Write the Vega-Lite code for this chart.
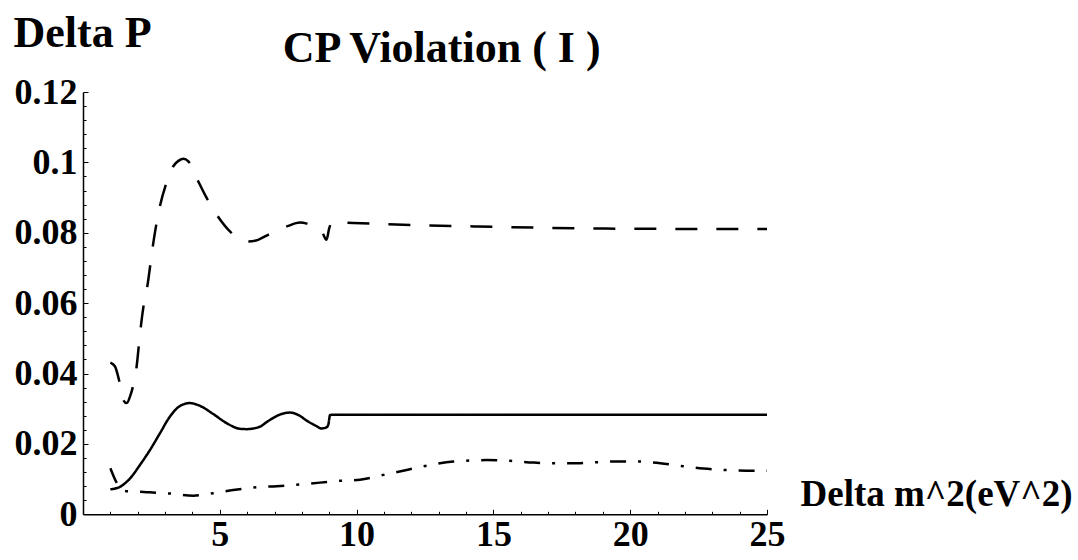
{
  "$schema": "https://vega.github.io/schema/vega-lite/v6.json",
  "autosize": "none",
  "width": 684,
  "height": 422.3,
  "padding": {"left": 83, "top": 92, "right": 311, "bottom": 45.7},
  "background": "white",
  "title": {
    "text": "CP Violation ( I )",
    "font": "Liberation Serif",
    "fontSize": 44,
    "fontWeight": "bold",
    "color": "black",
    "anchor": "middle",
    "frame": "group",
    "dx": 16.7,
    "dy": 95,
    "baseline": "alphabetic",
    "offset": 0
  },
  "config": {
    "view": {"stroke": null},
    "axis": {
      "grid": false,
      "domainColor": "black",
      "domainWidth": 1.5,
      "tickColor": "black",
      "tickWidth": 1,
      "labelFont": "Liberation Serif",
      "labelFontWeight": "bold",
      "labelFontSize": 36,
      "labelColor": "black",
      "labelFlush": false,
      "labelOverlap": false,
      "titleFont": "Liberation Serif",
      "titleFontWeight": "bold",
      "titleColor": "black"
    }
  },
  "data": {
    "values": [
      {"s": "solid", "x": 1.0, "y": 0.0071},
      {"s": "solid", "x": 1.35, "y": 0.0078},
      {"s": "solid", "x": 1.72, "y": 0.0102},
      {"s": "solid", "x": 2.08, "y": 0.014},
      {"s": "solid", "x": 2.45, "y": 0.0183},
      {"s": "solid", "x": 2.81, "y": 0.023},
      {"s": "solid", "x": 3.18, "y": 0.0278},
      {"s": "solid", "x": 3.55, "y": 0.0308},
      {"s": "solid", "x": 3.91, "y": 0.0316},
      {"s": "solid", "x": 4.28, "y": 0.0308},
      {"s": "solid", "x": 4.76, "y": 0.0285},
      {"s": "solid", "x": 5.25, "y": 0.0259},
      {"s": "solid", "x": 5.74, "y": 0.0243},
      {"s": "solid", "x": 5.98, "y": 0.0242},
      {"s": "solid", "x": 6.47, "y": 0.0249},
      {"s": "solid", "x": 6.71, "y": 0.0262},
      {"s": "solid", "x": 6.96, "y": 0.0274},
      {"s": "solid", "x": 7.25, "y": 0.0285},
      {"s": "solid", "x": 7.57, "y": 0.0289},
      {"s": "solid", "x": 7.9, "y": 0.0281},
      {"s": "solid", "x": 8.18, "y": 0.0266},
      {"s": "solid", "x": 8.5, "y": 0.0252},
      {"s": "solid", "x": 8.72, "y": 0.0244},
      {"s": "solid", "x": 8.9, "y": 0.0247},
      {"s": "solid", "x": 8.97, "y": 0.0256},
      {"s": "solid", "x": 9.03, "y": 0.0282},
      {"s": "solid", "x": 9.2, "y": 0.0283},
      {"s": "solid", "x": 25, "y": 0.0283},
      {"s": "dashed", "x": 1.0, "y": 0.0431},
      {"s": "dashed", "x": 1.17, "y": 0.042},
      {"s": "dashed", "x": 1.33, "y": 0.0377},
      {"s": "dashed", "x": 1.47, "y": 0.0325},
      {"s": "dashed", "x": 1.6, "y": 0.0316},
      {"s": "dashed", "x": 1.72, "y": 0.0335},
      {"s": "dashed", "x": 1.84, "y": 0.0368},
      {"s": "dashed", "x": 1.96, "y": 0.042},
      {"s": "dashed", "x": 2.08, "y": 0.051},
      {"s": "dashed", "x": 2.2, "y": 0.0585},
      {"s": "dashed", "x": 2.35, "y": 0.0647},
      {"s": "dashed", "x": 2.55, "y": 0.0761},
      {"s": "dashed", "x": 2.69, "y": 0.0828},
      {"s": "dashed", "x": 2.81, "y": 0.0875},
      {"s": "dashed", "x": 3.03, "y": 0.0937},
      {"s": "dashed", "x": 3.3, "y": 0.0989},
      {"s": "dashed", "x": 3.5, "y": 0.1005},
      {"s": "dashed", "x": 3.67, "y": 0.101},
      {"s": "dashed", "x": 3.85, "y": 0.1003},
      {"s": "dashed", "x": 4.15, "y": 0.0956},
      {"s": "dashed", "x": 4.52, "y": 0.0899},
      {"s": "dashed", "x": 4.89, "y": 0.0851},
      {"s": "dashed", "x": 5.37, "y": 0.0804},
      {"s": "dashed", "x": 5.7, "y": 0.0784},
      {"s": "dashed", "x": 6.04, "y": 0.0775},
      {"s": "dashed", "x": 6.4, "y": 0.078},
      {"s": "dashed", "x": 6.71, "y": 0.0792},
      {"s": "dashed", "x": 7.1, "y": 0.0808},
      {"s": "dashed", "x": 7.45, "y": 0.0818},
      {"s": "dashed", "x": 7.93, "y": 0.0829},
      {"s": "dashed", "x": 8.18, "y": 0.0826},
      {"s": "dashed", "x": 8.5, "y": 0.0815},
      {"s": "dashed", "x": 8.75, "y": 0.08},
      {"s": "dashed", "x": 8.9, "y": 0.078},
      {"s": "dashed", "x": 9.0, "y": 0.0813},
      {"s": "dashed", "x": 9.1, "y": 0.083},
      {"s": "dashed", "x": 9.88, "y": 0.0828},
      {"s": "dashed", "x": 12, "y": 0.0822},
      {"s": "dashed", "x": 14.3, "y": 0.0818},
      {"s": "dashed", "x": 17, "y": 0.0814},
      {"s": "dashed", "x": 19.1, "y": 0.0812},
      {"s": "dashed", "x": 22, "y": 0.0811},
      {"s": "dashed", "x": 25, "y": 0.0811},
      {"s": "dashdot", "x": 1.0, "y": 0.0131},
      {"s": "dashdot", "x": 1.23, "y": 0.009},
      {"s": "dashdot", "x": 1.54, "y": 0.0066},
      {"s": "dashdot", "x": 2.33, "y": 0.0063},
      {"s": "dashdot", "x": 3.18, "y": 0.0059},
      {"s": "dashdot", "x": 4.03, "y": 0.0053},
      {"s": "dashdot", "x": 4.76, "y": 0.006},
      {"s": "dashdot", "x": 5.49, "y": 0.0069},
      {"s": "dashdot", "x": 6.35, "y": 0.0077},
      {"s": "dashdot", "x": 7.08, "y": 0.008},
      {"s": "dashdot", "x": 8.66, "y": 0.009},
      {"s": "dashdot", "x": 9.39, "y": 0.0095},
      {"s": "dashdot", "x": 10.12, "y": 0.0098},
      {"s": "dashdot", "x": 10.98, "y": 0.0112},
      {"s": "dashdot", "x": 11.83, "y": 0.0126},
      {"s": "dashdot", "x": 12.56, "y": 0.0138},
      {"s": "dashdot", "x": 13.53, "y": 0.015},
      {"s": "dashdot", "x": 14.75, "y": 0.0154},
      {"s": "dashdot", "x": 15.6, "y": 0.0152},
      {"s": "dashdot", "x": 16.46, "y": 0.0147},
      {"s": "dashdot", "x": 17.19, "y": 0.0145},
      {"s": "dashdot", "x": 18.04, "y": 0.0145},
      {"s": "dashdot", "x": 18.77, "y": 0.0148},
      {"s": "dashdot", "x": 19.5, "y": 0.015},
      {"s": "dashdot", "x": 20.3, "y": 0.015},
      {"s": "dashdot", "x": 21.1, "y": 0.0145},
      {"s": "dashdot", "x": 21.88, "y": 0.0137},
      {"s": "dashdot", "x": 22.67, "y": 0.013},
      {"s": "dashdot", "x": 23.46, "y": 0.0126},
      {"s": "dashdot", "x": 24.26, "y": 0.0124},
      {"s": "dashdot", "x": 25, "y": 0.0124}
    ]
  },
  "mark": {"type": "line", "interpolate": "monotone", "color": "black", "strokeWidth": 2.5, "strokeCap": "butt"},
  "encoding": {
    "x": {
      "field": "x",
      "type": "quantitative",
      "scale": {"domain": [0, 25], "nice": false, "zero": true},
      "axis": {
        "values": [1, 2, 3, 4, 5, 6, 7, 8, 9, 10, 11, 12, 13, 14, 15, 16, 17, 18, 19, 20, 21, 22, 23, 24, 25],
        "format": "d",
        "labelExpr": "datum.value % 5 == 0 ? datum.label : ''",
        "tickSize": {"condition": {"test": "datum.value % 5 == 0", "value": -5}, "value": -3},
        "labelPadding": 8,
        "title": "Delta m^2(eV^2)",
        "titleFontSize": 37,
        "titleAlign": "left",
        "titleBaseline": "alphabetic",
        "titleAnchor": "start",
        "titleX": 717,
        "titleY": -9
      }
    },
    "y": {
      "field": "y",
      "type": "quantitative",
      "scale": {"domain": [0, 0.12], "nice": false, "zero": true},
      "axis": {
        "values": [0, 0.004, 0.008, 0.012, 0.016, 0.02, 0.024, 0.028, 0.032, 0.036, 0.04, 0.044, 0.048, 0.052, 0.056, 0.06, 0.064, 0.068, 0.072, 0.076, 0.08, 0.084, 0.088, 0.092, 0.096, 0.1, 0.104, 0.108, 0.112, 0.116, 0.12],
        "labelExpr": "round(datum.value * 1000) % 20 == 0 ? format(datum.value, '.2~f') : ''",
        "tickSize": {"condition": {"test": "round(datum.value * 1000) % 20 == 0", "value": -5}, "value": -3},
        "labelPadding": 11,
        "title": "Delta P",
        "titleFontSize": 44,
        "titleAngle": 0,
        "titleAlign": "left",
        "titleBaseline": "alphabetic",
        "titleX": -70,
        "titleY": -46
      }
    },
    "strokeDash": {
      "field": "s",
      "type": "nominal",
      "scale": {"domain": ["solid", "dashed", "dashdot"], "range": [[1, 0], [22, 19], [16, 12, 3, 12]]},
      "legend": null
    }
  }
}
